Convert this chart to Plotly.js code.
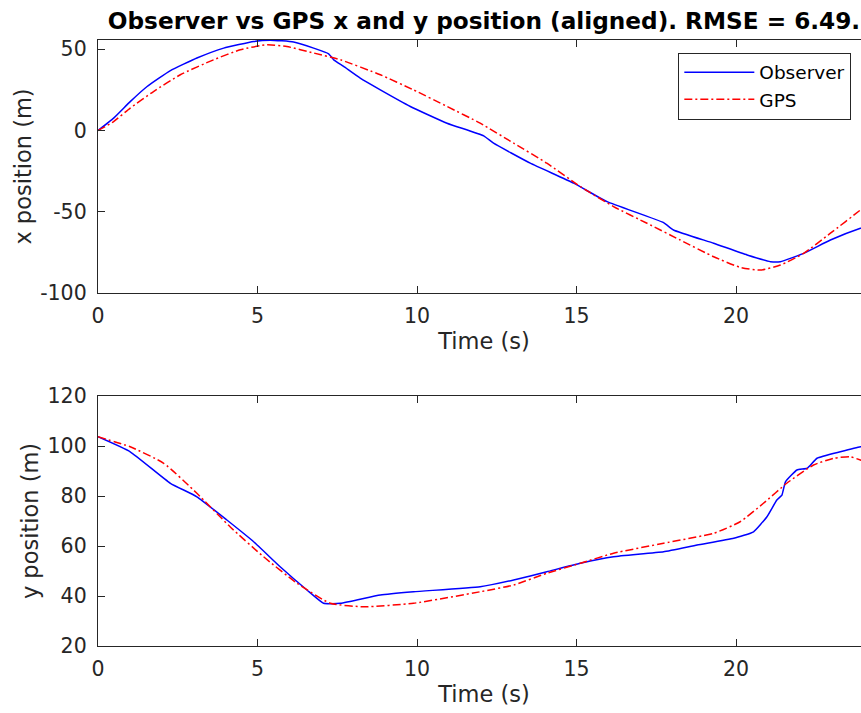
<!DOCTYPE html>
<html>
<head>
<meta charset="utf-8">
<script src="https://cdn.plot.ly/plotly-3.0.1.min.js"></script>
<style>
html,body{margin:0;padding:0;overflow:hidden;background:#fff;width:861px;height:713px;}
#chart{width:880px;height:713px;}
</style>
</head>
<body>
<div id="chart"></div>
<script>
// ---- data ----
const chartTitle = "Observer vs GPS x and y position (aligned). RMSE = 6.49.";
const seriesNames = ["Observer", "GPS"];

// top panel: x position (m)
const obsTimeX = [0,0.49,1.01,1.54,2.27,3.10,3.94,4.88,5.4,6.13,6.76,7.23,7.39,7.70,8.22,8.85,9.79,10.94,12.09,12.40,13.55,14.91,15.96,17.73,18.04,19.30,20.35,21.08,21.39,22.12,22.96,23.9,24.2];
const obsX     = [0,7.6,17.8,27.1,36.9,44.6,50.7,54.8,55.6,54.5,50.7,47.2,43.5,39.4,32.2,25,14.8,4.5,-3.3,-7.8,-20.1,-32.4,-43.8,-56.7,-61.2,-69.4,-76.6,-80.7,-80.7,-75.6,-67.4,-60.2,-58.5];
const gpsTimeX = [0,0.49,1.01,1.74,2.58,3.62,4.46,5.30,5.92,6.76,7.6,8.85,9.89,10.94,11.98,13.03,14.07,15.12,16.16,17.21,18.25,19.3,20.13,20.76,21.39,22.12,22.96,23.9,24.2];
const gpsX     = [0,5.5,13.8,24,34.3,43.5,49.7,52.8,51.7,47.7,43.5,34.3,25,14.8,4.5,-7.8,-20.1,-34.5,-46.8,-57.1,-67.4,-77.7,-84.2,-85.9,-82.8,-75.6,-63.2,-48.9,-44];

// bottom panel: y position (m)
const obsTimeY = [0,1.01,2.27,3.10,4.04,4.88,5.71,6.55,7.07,7.6,8.85,9.89,11.98,13.03,14.07,15.12,16.16,17.73,18.78,19.93,20.55,20.97,21.28,21.44,21.55,21.91,22.23,22.54,23.27,23.9,24.2];
const obsY     = [103.7,97.7,85.1,79.7,70.4,61.7,51.7,42.4,37.1,37.1,40.4,41.7,43.7,46.4,49.7,53.1,55.7,57.7,60.4,63.1,65.7,71.7,78.4,80.4,85.7,90.4,91.1,95.1,97.7,99.7,100];
const gpsTimeY = [0,1.01,2.06,3.10,4.14,5.19,6.24,7.28,8.33,9.89,11.98,13.03,14.07,15.12,16.16,17.73,19.3,20.13,20.86,21.59,22.43,23.06,23.58,23.9,24.2];
const gpsY     = [103.7,99.7,93.1,81.1,67.7,55.7,45.1,37.1,35.7,37.1,41.7,44.4,49.1,53.1,57.1,61.1,65.1,69.7,77.1,85.1,92.4,95.1,95.7,94.4,93];

const xTicks = [0,5,10,15,20];
const xTickText = ["0","5","10","15","20"];
const topYTicks = [-100,-50,0,50];
const topYTickText = ["-100","-50","0","50"];
const botYTicks = [20,40,60,80,100,120];
const botYTickText = ["20","40","60","80","100","120"];
const xLabel = "Time (s)";
const topYLabel = "x position (m)";
const botYLabel = "y position (m)";

// ---- styling ----
const axCol = "#262626";
const FONT = "DejaVu Sans, sans-serif";
const obsLine = {color:"#0000FF", width:1.5, dash:"solid", shape:"spline", smoothing:0.4};
const gpsLine = {color:"#FF0000", width:1.5, dash:"8px,3px,2px,3px", shape:"spline", smoothing:0.5};

const traces = [
  {x:obsTimeX, y:obsX, name:seriesNames[0], mode:"lines", line:obsLine, xaxis:"x", yaxis:"y"},
  {x:gpsTimeX, y:gpsX, name:seriesNames[1], mode:"lines", line:gpsLine, xaxis:"x", yaxis:"y"},
  {x:obsTimeY, y:obsY, name:seriesNames[0], mode:"lines", line:obsLine, xaxis:"x2", yaxis:"y2", showlegend:false},
  {x:gpsTimeY, y:gpsY, name:seriesNames[1], mode:"lines", line:gpsLine, xaxis:"x2", yaxis:"y2", showlegend:false}
];

function xAx(anchor){
  return {
    anchor:anchor, range:[0,24.2], tickmode:"array", tickvals:xTicks, ticktext:xTickText,
    ticks:"inside", ticklen:7, tickwidth:1,
    tickcolor:axCol, showline:true, linecolor:axCol, linewidth:1.2, mirror:"ticks",
    showgrid:false, zeroline:false, ticklabelstandoff:4,
    tickfont:{family:FONT, size:20.5, color:axCol},
    title:{text:xLabel, font:{family:FONT, size:22.5, color:axCol}, standoff:6},
    automargin:false
  };
}
function yAx(anchor, range, ticks, ticktext, label, domain){
  return {
    anchor:anchor, domain:domain, range:range, tickmode:"array", tickvals:ticks, ticktext:ticktext,
    ticks:"inside", ticklen:7, tickwidth:1,
    tickcolor:axCol, showline:true, linecolor:axCol, linewidth:1.2, mirror:"ticks",
    showgrid:false, zeroline:false, ticklabelstandoff:6,
    tickfont:{family:FONT, size:20.5, color:axCol},
    title:{text:label, font:{family:FONT, size:22.5, color:axCol}, standoff:2},
    automargin:false
  };
}

const layout = {
  width:880, height:713,
  margin:{l:97.7, r:10.3, t:40, b:67},
  paper_bgcolor:"#fff", plot_bgcolor:"#fff",
  title:{text:"<b>"+chartTitle+"</b>", font:{family:FONT, size:23.2, color:"#000"},
         x:0.5, xref:"paper", xanchor:"center", y:1-21/713, yref:"container", yanchor:"middle"},
  xaxis: xAx("y"),
  yaxis: yAx("x", [-100,55.7], topYTicks, topYTickText, topYLabel, [0.5825,1]),
  xaxis2: xAx("y2"),
  yaxis2: yAx("x2", [20,120], botYTicks, botYTickText, botYLabel, [0,0.4125]),
  showlegend:true,
  legend:{x:0.9758, xanchor:"right", y:0.979, yanchor:"top", bgcolor:"#fff",
          bordercolor:axCol, borderwidth:1, itemwidth:70,
          font:{family:FONT, size:18.5, color:"#000"}, tracegroupgap:0}
};

Plotly.newPlot("chart", traces, layout, {staticPlot:true, displayModeBar:false});
</script>
</body>
</html>
